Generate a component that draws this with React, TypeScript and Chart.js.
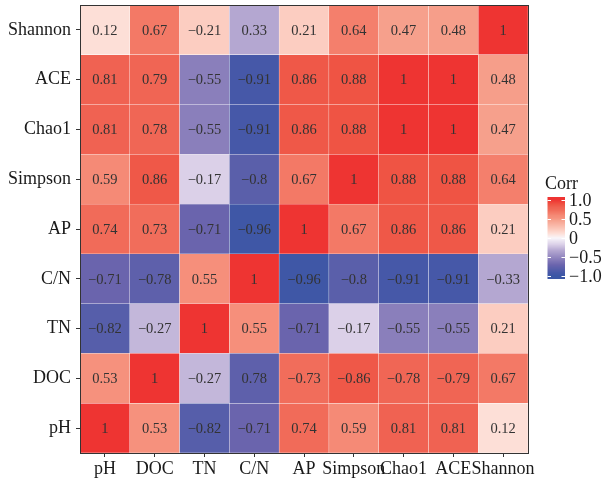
import React, { useEffect, useRef } from "react";
import { Chart, registerables } from "chart.js";

Chart.register(...registerables);

// Axis labels (bottom row to top row for y; left to right for x)
const rowLabels = ["pH", "DOC", "TN", "C/N", "AP", "Simpson", "Chao1", "ACE", "Shannon"];
const colLabels = ["pH", "DOC", "TN", "C/N", "AP", "Simpson", "Chao1", "ACE", "Shannon"];

// Printed values for each row
const pHText = [1, 0.53, -0.82, -0.71, 0.74, 0.59, 0.81, 0.81, 0.12];
const docText = [0.53, 1, -0.27, 0.78, -0.73, -0.86, -0.78, -0.79, 0.67];
const tnText = [-0.82, -0.27, 1, 0.55, -0.71, -0.17, -0.55, -0.55, 0.21];
const cnText = [-0.71, -0.78, 0.55, 1, -0.96, -0.8, -0.91, -0.91, -0.33];
const apText = [0.74, 0.73, -0.71, -0.96, 1, 0.67, 0.86, 0.86, 0.21];
const simpsonText = [0.59, 0.86, -0.17, -0.8, 0.67, 1, 0.88, 0.88, 0.64];
const chao1Text = [0.81, 0.78, -0.55, -0.91, 0.86, 0.88, 1, 1, 0.47];
const aceText = [0.81, 0.79, -0.55, -0.91, 0.86, 0.88, 1, 1, 0.48];
const shannonText = [0.12, 0.67, -0.21, 0.33, 0.21, 0.64, 0.47, 0.48, 1];

// Values used for the fill colour of each row
const pHFill = [1, 0.53, -0.82, -0.71, 0.74, 0.59, 0.81, 0.81, 0.12];
const docFill = [0.53, 1, -0.27, -0.78, 0.73, 0.86, 0.78, 0.79, 0.67];
const tnFill = [-0.82, -0.27, 1, 0.55, -0.71, -0.17, -0.55, -0.55, 0.21];
const cnFill = [-0.71, -0.78, 0.55, 1, -0.96, -0.8, -0.91, -0.91, -0.33];
const apFill = [0.74, 0.73, -0.71, -0.96, 1, 0.67, 0.86, 0.86, 0.21];
const simpsonFill = [0.59, 0.86, -0.17, -0.8, 0.67, 1, 0.88, 0.88, 0.64];
const chao1Fill = [0.81, 0.78, -0.55, -0.91, 0.86, 0.88, 1, 1, 0.47];
const aceFill = [0.81, 0.79, -0.55, -0.91, 0.86, 0.88, 1, 1, 0.48];
const shannonFill = [0.12, 0.67, 0.21, -0.33, 0.21, 0.64, 0.47, 0.48, 1];

const textRows = [pHText, docText, tnText, cnText, apText, simpsonText, chao1Text, aceText, shannonText];
const fillRows = [pHFill, docFill, tnFill, cnFill, apFill, simpsonFill, chao1Fill, aceFill, shannonFill];

// Colour scale
const legendTicks = [1, 0.5, 0, -0.5, -1];
const legendTickLabels = ["1.0", "0.5", "0", "\u22120.5", "\u22121.0"];
const stopValues = [-1, -0.91, -0.8, -0.71, -0.55, -0.33, -0.27, -0.17, 0, 0.12, 0.21, 0.47, 0.53, 0.59, 0.67, 0.74, 0.81, 0.88, 1];
const stopColors = [
  "#3a56a5", "#4658a8", "#5a5faa", "#6a64ad", "#8a7fbb", "#b4a7d1", "#c3b7da", "#dbd0e8",
  "#f8f6fa", "#fddfd7", "#fccdc1", "#f6a08c", "#f6917d", "#f58a76", "#f37966", "#f16b59",
  "#f06252", "#ef5444", "#ee3432",
];

function hexToRgb(h: string) {
  const n = parseInt(h.slice(1), 16);
  return [(n >> 16) & 255, (n >> 8) & 255, n & 255];
}

function colorFor(v: number) {
  const x = Math.max(-1, Math.min(1, v));
  for (let i = 0; i < stopValues.length - 1; i++) {
    if (x >= stopValues[i] && x <= stopValues[i + 1]) {
      const t = (x - stopValues[i]) / (stopValues[i + 1] - stopValues[i]);
      const a = hexToRgb(stopColors[i]);
      const b = hexToRgb(stopColors[i + 1]);
      const c = a.map((av, k) => Math.round(av + (b[k] - av) * t));
      return `rgb(${c[0]},${c[1]},${c[2]})`;
    }
  }
  return stopColors[stopColors.length - 1];
}

function fmt(v: number) {
  const s = String(v);
  return s.startsWith("-") ? "\u2212" + s.slice(1) : s;
}

const FONT = "'Liberation Serif', 'DejaVu Serif', serif";

const cellTextPlugin = {
  id: "cellText",
  afterDatasetsDraw(chart: any) {
    const { ctx, scales } = chart;
    const xs = scales.x;
    const ys = scales.y;
    ctx.save();
    ctx.font = `14.5px ${FONT}`;
    ctx.fillStyle = "#333333";
    ctx.textAlign = "center";
    ctx.textBaseline = "middle";
    textRows.forEach((row, r) => {
      row.forEach((v, c) => {
        const x = xs.getPixelForValue(c);
        const y = ys.getPixelForValue(r + 0.5);
        ctx.fillText(fmt(v), x, y + 1);
      });
    });
    // panel border
    const a = chart.chartArea;
    ctx.strokeStyle = "#333333";
    ctx.lineWidth = 1;
    ctx.strokeRect(Math.round(a.left) + 0.5, Math.round(a.top) + 0.5, Math.round(a.right - a.left), Math.round(a.bottom - a.top));
    ctx.restore();
  },
};

const colorbarPlugin = {
  id: "colorbar",
  afterDraw(chart: any) {
    const { ctx } = chart;
    const bx = 547.5;
    const bw = 17.5;
    const top = 197;
    const bottom = 279;
    const mid = 238;
    const unit = 38;
    ctx.save();
    for (let y = top; y < bottom; y++) {
      const v = (mid - (y + 0.5)) / unit;
      ctx.fillStyle = colorFor(v);
      ctx.fillRect(bx, y, bw, 1);
    }
    ctx.strokeStyle = "#ffffff";
    ctx.lineWidth = 1;
    legendTicks.forEach((v) => {
      const y = Math.round(mid - v * unit) + 0.5;
      ctx.beginPath();
      ctx.moveTo(bx, y);
      ctx.lineTo(bx + 3.5, y);
      ctx.moveTo(bx + bw - 3.5, y);
      ctx.lineTo(bx + bw, y);
      ctx.stroke();
    });
    ctx.fillStyle = "#1a1a1a";
    ctx.font = `18px ${FONT}`;
    ctx.textAlign = "left";
    ctx.textBaseline = "middle";
    legendTicks.forEach((v, i) => {
      ctx.fillText(legendTickLabels[i], 569, mid - v * unit + 1);
    });
    ctx.textBaseline = "alphabetic";
    ctx.fillText("Corr", 545, 189);
    ctx.restore();
  },
};

export default function App() {
  const ref = useRef<HTMLCanvasElement | null>(null);

  useEffect(() => {
    if (!ref.current) return;
    const datasets = fillRows.map((row, r) => ({
      label: rowLabels[r],
      data: row.map(() => [r, r + 1]),
      backgroundColor: row.map((v) => colorFor(v)),
      borderColor: "rgba(255,255,255,0.18)",
      borderWidth: 0.5,
      borderSkipped: false,
      barPercentage: 1,
      categoryPercentage: 1,
      grouped: false,
    }));

    const chart = new Chart(ref.current, {
      type: "bar",
      data: { labels: colLabels, datasets: datasets as any },
      options: {
        animation: false,
        responsive: false,
        maintainAspectRatio: false,
        layout: { padding: { top: 5, right: 76, left: 0, bottom: 0 } },
        plugins: {
          legend: { display: false },
          tooltip: { enabled: false },
        },
        scales: {
          x: {
            type: "category",
            offset: true,
            grid: {
              offset: false,
              display: true,
              drawOnChartArea: false,
              drawTicks: true,
              tickLength: 4,
              tickColor: "#333333",
              tickWidth: 1,
            },
            border: { display: false },
            ticks: {
              autoSkip: false,
              maxRotation: 0,
              minRotation: 0,
              padding: 1,
              color: "#1a1a1a",
              font: { family: FONT, size: 18 },
            },
            afterFit: (scale: any) => {
              scale.height = 27;
              scale.paddingLeft = 0;
              scale.paddingRight = 0;
            },
          },
          y: {
            type: "linear",
            min: 0,
            max: 9,
            grid: {
              display: true,
              drawOnChartArea: false,
              drawTicks: true,
              tickLength: 4,
              tickColor: "#333333",
              tickWidth: 1,
            },
            border: { display: false },
            afterBuildTicks: (scale: any) => {
              scale.ticks = rowLabels.map((_, i) => ({ value: i + 0.5 }));
            },
            ticks: {
              autoSkip: false,
              padding: 5,
              color: "#1a1a1a",
              font: { family: FONT, size: 18 },
              callback: (_v: any, i: number) => rowLabels[i],
            },
            afterFit: (scale: any) => {
              scale.width = 80;
              scale.paddingTop = 0;
              scale.paddingBottom = 0;
            },
          },
        },
      },
      plugins: [cellTextPlugin, colorbarPlugin],
    });
    return () => chart.destroy();
  }, []);

  return (
    <div style={{ position: "absolute", left: 0, top: 0, width: 604, height: 480, background: "#ffffff" }}>
      <canvas ref={ref} width={604} height={480} style={{ display: "block" }} />
    </div>
  );
}
